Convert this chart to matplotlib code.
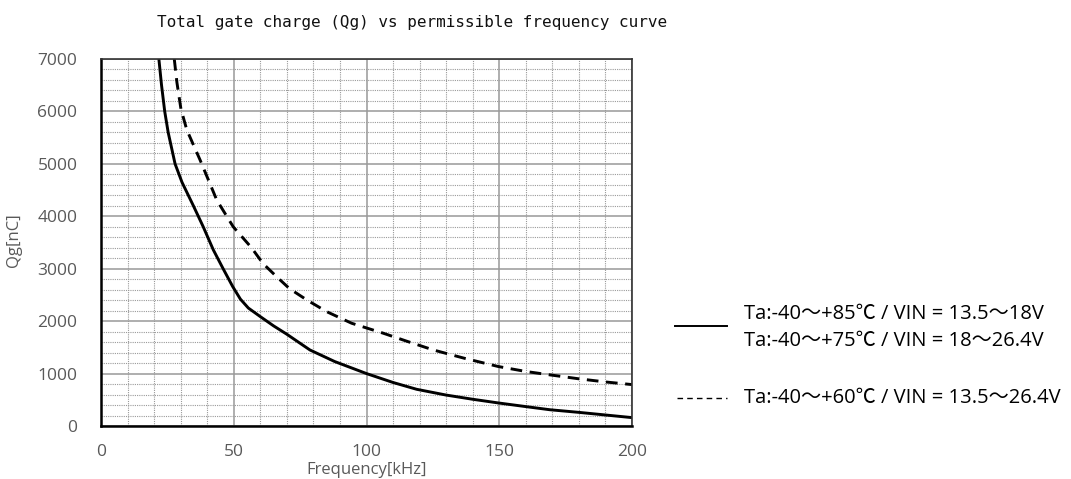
import matplotlib

matplotlib.use("Agg")
import matplotlib.pyplot as plt
from matplotlib.ticker import MultipleLocator

# Solid curve: Ta -40~+85C / 13.5~18V and Ta -40~+75C / 18~26.4V
freq_solid = [21.8, 22.8, 24.0, 25.3, 27.9, 30.5, 34.8, 38.5, 42.3, 46.0, 49.6, 52.5, 55.5, 59.9, 65.0,
              70.0, 78.7, 88.0, 100.0, 110.0, 118.9, 130.0, 140.0, 149.6, 160.0, 169.1, 180.0, 190.0, 200.0]
qg_solid = [7000, 6500, 6000, 5600, 5000, 4650, 4200, 3800, 3360, 3000, 2660, 2420, 2250, 2090, 1910,
            1750, 1450, 1230, 1000, 830, 700, 590, 510, 440, 370, 310, 260, 210, 160]

# Dashed curve: Ta -40~+60C / 13.5~26.4V
freq_dash = [27.6, 28.6, 30.1, 32.3, 37.3, 43.6, 49.8, 56.7, 61.0, 66.1, 71.0, 77.5, 85.0, 94.4,
             100.0, 106.3, 115.0, 125.2, 137.0, 149.6, 160.0, 169.1, 180.0, 190.0, 200.0]
qg_dash = [7000, 6550, 6050, 5650, 5076, 4310, 3800, 3400, 3100, 2850, 2620, 2405, 2181, 1960,
           1870, 1770, 1620, 1450, 1290, 1135, 1040, 975, 900, 840, 790]

legend_labels = [
    "Ta:-40\u301c+85\u2103 / VIN = 13.5\u301c18V",
    "Ta:-40\u301c+75\u2103 / VIN = 18\u301c26.4V",
    "Ta:-40\u301c+60\u2103 / VIN = 13.5\u301c26.4V",
]

fig = plt.figure(figsize=(10.71, 4.79), dpi=100)
ax = fig.add_axes([101 / 1071, 53 / 479, 531 / 1071, 367 / 479])

ax.plot(freq_solid, qg_solid, color="black", linewidth=2.1, solid_capstyle="butt")
ax.plot(freq_dash, qg_dash, color="black", linewidth=2.1, linestyle=(0, (4, 2.6)))

ax.set_xlim(0, 200)
ax.set_ylim(0, 7000)
ax.xaxis.set_major_locator(MultipleLocator(50))
ax.xaxis.set_minor_locator(MultipleLocator(10))
ax.yaxis.set_major_locator(MultipleLocator(1000))
ax.yaxis.set_minor_locator(MultipleLocator(200))
ax.grid(which="major", color="#999999", linewidth=1.1, linestyle="-", zorder=1)
ax.grid(which="minor", color="#9a9a9a", linewidth=0.8, linestyle=(0, (1, 1)), zorder=1)
ax.set_axisbelow(True)

ax.tick_params(which="both", length=0, colors="#595959", labelsize=12.5)
ax.tick_params(axis="y", pad=17)
ax.tick_params(axis="x", pad=13)
for lab in ax.get_xticklabels() + ax.get_yticklabels():
    lab.set_fontfamily("Open Sans")

for side in ["left", "bottom"]:
    ax.spines[side].set_linewidth(1.8)
    ax.spines[side].set_color("black")
for side in ["top", "right"]:
    ax.spines[side].set_linewidth(1.2)
    ax.spines[side].set_color("#333333")

ax.set_xlabel("Frequency[kHz]", fontsize=12, color="#595959", family="Open Sans")
ax.xaxis.set_label_coords(0.5, -0.097)
ax.set_ylabel("Qg[nC]", fontsize=12, color="#595959", family="Open Sans")
ax.yaxis.set_label_coords(-0.148, 0.507)

fig.text(412 / 1071, 1 - 22 / 479, "Total gate charge (Qg) vs permissible frequency curve",
         ha="center", va="center", fontsize=11.5, family="DejaVu Sans Mono", color="#111111")

# legend drawn by hand
fig.add_artist(plt.Line2D([675 / 1071, 727 / 1071], [1 - 326 / 479, 1 - 326 / 479],
                          color="black", linewidth=1.4))
fig.add_artist(plt.Line2D([677 / 1071, 727 / 1071], [1 - 398 / 479, 1 - 398 / 479],
                          color="black", linewidth=1.0, linestyle=(0, (4, 3))))
legend_y = [314, 341, 398]
for lbl, yy in zip(legend_labels, legend_y):
    fig.text(744 / 1071, 1 - yy / 479, lbl, ha="left", va="center", fontsize=14.5,
             family=["Open Sans", "Noto Sans CJK JP"], color="black")

fig.savefig("out.png", dpi=100)
